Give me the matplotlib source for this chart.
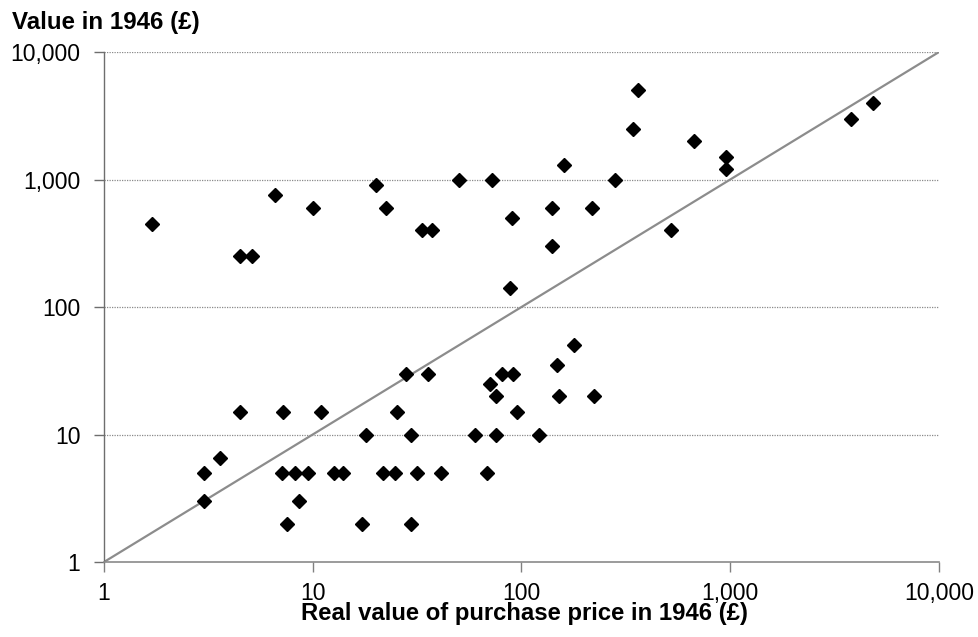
import matplotlib
matplotlib.use("Agg")
import matplotlib.pyplot as plt
from matplotlib.ticker import FixedLocator, FuncFormatter, NullLocator

plt.rcParams['font.family'] = ['Liberation Sans', 'DejaVu Sans']

# Purchase price (real, 1946 £) vs value in 1946 (£)
price = [1.7, 4.5, 5.1, 6.6, 10, 20, 22.4, 33.4, 37.3, 50, 72, 90, 88.5,
         140, 140, 160, 217, 280, 343, 363, 518, 673, 955, 955, 3790, 4810,
         3, 3, 3.6, 4.5, 7.2, 7.1, 8.2, 9.5, 8.6, 7.5, 11, 12.7, 14, 18,
         17.3, 21.6, 24.8, 25.2, 28, 35.5, 29.4, 31.7, 29.4, 41, 60, 75.5,
         68, 70.6, 75.5, 80.4, 90.8, 95, 121, 148, 152, 178, 223]
value = [450, 250, 250, 750, 600, 900, 600, 400, 400, 1000, 1000, 500, 140,
         600, 300, 1300, 600, 1000, 2500, 5000, 400, 2000, 1500, 1200, 3000, 4000,
         5, 3, 6.5, 15, 15, 5, 5, 5, 3, 2, 15, 5, 5, 10,
         2, 5, 5, 15, 30, 30, 10, 5, 2, 5, 10, 10,
         5, 25, 20, 30, 30, 15, 10, 35, 20, 50, 20]

decades = [1, 10, 100, 1000, 10000]

fig = plt.figure(figsize=(9.79, 6.37), dpi=100)
ax = fig.add_axes([104 / 979, 1 - 562 / 637, (939 - 104) / 979, (562 - 52) / 637])

ax.set_xscale('log')
ax.set_yscale('log')
ax.set_xlim(1, 10000)
ax.set_ylim(1, 10000)

# horizontal gridlines only
for d in decades[1:]:
    ax.axhline(d, color='#8a8a8a', lw=0.9, ls=(0, (1, 1)), zorder=1)

# line of equality
ax.plot([1, 10000], [1, 10000], color='#8c8c8c', lw=1.6, zorder=2)

ax.plot(price, value, ls='none', marker='D', ms=7.6, color='black', zorder=3)

fmt = FuncFormatter(lambda v, _: f"{v:,.0f}")
for axis in (ax.xaxis, ax.yaxis):
    axis.set_major_locator(FixedLocator(decades))
    axis.set_minor_locator(NullLocator())
    axis.set_major_formatter(fmt)

ax.tick_params(axis='x', length=7, width=1, color='#808080', pad=7.5, labelsize=16.5)
ax.tick_params(axis='y', length=7, width=1, color='#6e6e6e', pad=10, labelsize=16.5)

for s in ('top', 'right'):
    ax.spines[s].set_visible(False)
ax.spines['left'].set_color('#6e6e6e')
ax.spines['bottom'].set_color('#8a8a8a')
ax.spines['left'].set_linewidth(1)
ax.spines['bottom'].set_linewidth(1.2)

fig.text(12 / 979, 1 - 28.5 / 637, 'Value in 1946 (£)', fontsize=17.4,
         fontweight='bold', va='baseline', ha='left')
fig.text(525 / 979, 1 - 620 / 637, 'Real value of purchase price in 1946 (£)',
         fontsize=17.2, fontweight='bold', va='baseline', ha='center')

fig.savefig('out.png', dpi=100)
